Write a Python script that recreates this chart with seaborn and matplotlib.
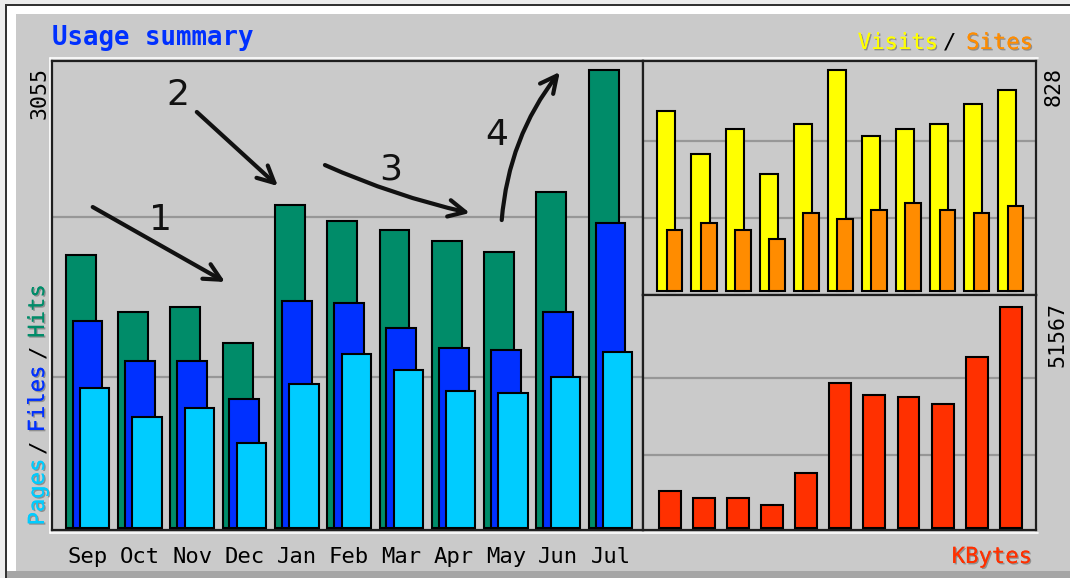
import numpy as np
import matplotlib
matplotlib.use("Agg")
import matplotlib.pyplot as plt
import matplotlib.patheffects as pe
from matplotlib.lines import Line2D
from matplotlib.patches import Rectangle
import seaborn as sns

# ---------------- data ----------------
months = ["Sep", "Oct", "Nov", "Dec", "Jan", "Feb", "Mar", "Apr", "May", "Jun", "Jul"]
hits   = [1821, 1443, 1476, 1236, 2155, 2048, 1988, 1914, 1841, 2243, 3055]
files  = [1383, 1114, 1114, 858, 1516, 1503, 1336, 1203, 1187, 1443, 2033]
pages  = [932, 738, 798, 569, 961, 1159, 1054, 916, 903, 1005, 1172]
visits = [675, 515, 608, 438, 625, 828, 581, 608, 625, 701, 753]
sites  = [228, 253, 228, 193, 294, 269, 303, 328, 303, 294, 320]
kbytes = [8514, 6978, 6978, 5420, 12793, 33727, 31005, 30610, 28913, 39914, 51567]

# hand-drawn annotations (label, label pos, arrow start, arrow end, curvature) in main-axes data units
notes = [
    ("1", (1.39, 2054), (0.10, 2141), (2.63, 1641), 0.0),
    ("2", (1.73, 2888), (2.09, 2775), (3.64, 2281), 0.0),
    ("3", (5.80, 2388), (4.54, 2421), (7.31, 2101), 0.05),
    ("4", (7.83, 2621), (7.92, 2054), (9.03, 3042), -0.15),
]

# ---------------- style ----------------
BG = "#CACACA"
C_HITS, C_FILES, C_PAGES = "#008C69", "#0030FF", "#00CCFF"
C_VISITS, C_SITES, C_KB = "#FFFF00", "#FF8C00", "#FF3000"
DARK = "#1E1E1E"

sns.set_theme(style="white")
plt.rcParams["font.family"] = ["DejaVu Sans Mono", "DejaVu Sans"]

W, H = 1070, 578
fig = plt.figure(figsize=(W / 100, H / 100), dpi=100)
fig.patch.set_facecolor(BG)


def rect(x0, y0, x1, y1):
    return [x0 / W, 1 - y1 / H, (x1 - x0) / W, (y1 - y0) / H]


def band(x0, y0, x1, y1, color):
    fig.add_artist(Rectangle((x0 / W, 1 - y1 / H), (x1 - x0) / W, (y1 - y0) / H,
                             transform=fig.transFigure, facecolor=color,
                             edgecolor="none", zorder=-5))


def hline(y, x0, x1, color="white", lw=1.2):
    fig.add_artist(Line2D([x0 / W, x1 / W], [1 - y / H, 1 - y / H], transform=fig.transFigure,
                          color=color, lw=lw, zorder=-4))


def vline(x, y0, y1, color="white", lw=1.2):
    fig.add_artist(Line2D([x / W, x / W], [1 - y0 / H, 1 - y1 / H], transform=fig.transFigure,
                          color=color, lw=lw, zorder=-4))


# outer bevel
band(0, 0, W, 4, "#EDEDED")
band(0, 0, 5, H, "#EDEDED")
band(5, 4, W, 6, "#333333")
band(5, 4, 7, H, "#333333")
band(7, 6, W, 14, "white")
band(7, 6, 16, 571, "white")
band(7, 571, W, H, "#A6A6A6")

# panels (pixel boxes)
MAIN = (52, 61, 643, 530)
VIS = (643, 61, 1036, 295)
KB = (643, 295, 1036, 530)

ax = fig.add_axes(rect(*MAIN))
axv = fig.add_axes(rect(*VIS))
axk = fig.add_axes(rect(*KB))

x = np.arange(len(months))


def style_axes(a):
    a.set_facecolor(BG)
    for s in a.spines.values():
        s.set_color(DARK)
        s.set_linewidth(1.6)
    a.set_xlabel("")
    a.set_ylabel("")
    a.set_yticks([])
    a.grid(False)


def bars(a, xpos, vals, width, color):
    sns.barplot(x=xpos, y=vals, native_scale=True, width=width, color=color,
                saturation=1, edgecolor="black", linewidth=1.5, errorbar=None,
                orient="x", ax=a, zorder=3)


# main panel: hits / files / pages
bars(ax, x - 0.13, hits, 0.57, C_HITS)
bars(ax, x, files, 0.57, C_FILES)
bars(ax, x + 0.137, pages, 0.56, C_PAGES)

# right panels
bars(axv, x - 0.10, visits, 0.53, C_VISITS)
bars(axv, x + 0.14, sites, 0.46, C_SITES)
bars(axk, x, kbytes, 0.64, C_KB)


def set_limits(a, box, vmax, base_px, top_px, c0, step):
    x0, y0, x1, y1 = box
    s = vmax / (base_px - top_px)
    a.set_ylim(-(y1 - base_px) * s, vmax + (top_px - y0) * s)
    a.set_xlim((x0 - c0) / step, (x1 - c0) / step)
    for frac in (0.33, 0.68):
        a.axhline(vmax * frac, color="#979797", lw=1.6, zorder=1)


set_limits(ax, MAIN, max(hits), 528, 70, 87.5, 52.3)
set_limits(axv, VIS, max(visits), 291, 70, 669.8, 34.1)
set_limits(axk, KB, max(kbytes), 528, 306.7, 669.8, 34.1)

for a in (ax, axv, axk):
    style_axes(a)

ax.set_xticks(x, months)
ax.tick_params(axis="x", length=0, pad=12, labelsize=16, colors="black")
axv.set_xticks([])
axk.set_xticks([])

# bevel lines around panels
hline(58, 50, 1038)
vline(50, 58, 532.5)
hline(532.5, 50, 1038)
vline(1033, 63, 528)
vline(640, 63, 528)
hline(297.5, 645, 1034)

# annotations (hand drawn arrows)
for lab, lpos, start, end, rad in notes:
    ax.annotate("", xy=end, xytext=start, xycoords="data",
                arrowprops=dict(arrowstyle="->,head_length=1.0,head_width=0.5",
                                lw=3, color="#111111", shrinkA=0, shrinkB=0,
                                connectionstyle=f"arc3,rad={rad}"),
                zorder=6, annotation_clip=False)
    ax.text(lpos[0], lpos[1], lab, fontsize=26, family="DejaVu Sans",
            color="#111111", ha="center", va="center", zorder=6)

# texts
shadow = [pe.withSimplePatchShadow(offset=(1, -1), shadow_rgbFace="#555555", alpha=0.5), pe.Normal()]


def ftext(px, py, s, **kw):
    return fig.text(px / W, 1 - py / H, s, **kw)


ftext(52, 38, "Usage summary", fontsize=18.5, weight="bold", color="#0030FF",
      ha="left", va="center")

ftext(1033, 43, "Sites", fontsize=16, color=C_SITES, ha="right", va="center", path_effects=shadow)
ftext(950, 43, "/", fontsize=16, color="black", ha="center", va="center")
ftext(938, 43, "Visits", fontsize=16, color=C_VISITS, ha="right", va="center", path_effects=shadow)

ftext(1032, 557, "KBytes", fontsize=16, color=C_KB, ha="right", va="center", path_effects=shadow)

for s, cy, col in [("Pages", 492, C_PAGES), ("/", 446, "black"), ("Files", 399, C_FILES),
                   ("/", 351, "black"), ("Hits", 311, C_HITS)]:
    ftext(38, cy, s, fontsize=16, color=col, rotation=90, ha="center", va="center",
          path_effects=shadow if col != "black" else None)

ftext(40, 67, str(max(hits)), fontsize=15.5, rotation=90, ha="center", va="top", color="black")
ftext(1054, 67, str(max(visits)), fontsize=15.5, rotation=90, ha="center", va="top", color="black")
ftext(1057, 302, str(max(kbytes)), fontsize=15.5, rotation=90, ha="center", va="top", color="black")

fig.savefig("out.png", dpi=100, facecolor=BG)
